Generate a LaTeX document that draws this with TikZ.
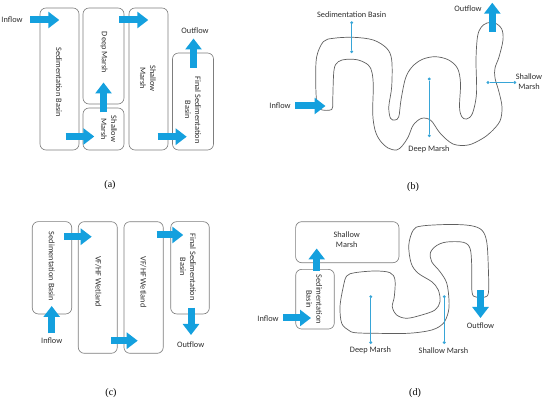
\documentclass[tikz,border=0pt]{standalone}
\usepackage{fontspec}
\setmainfont{Carlito}
\newfontfamily\capfont{Liberation Serif}
\usetikzlibrary{arrows.meta}
\definecolor{flowblue}{RGB}{20,160,222}
\definecolor{leadblue}{RGB}{55,165,215}
\definecolor{boxgray}{RGB}{125,125,125}
\definecolor{curvegray}{RGB}{95,95,95}
\definecolor{txtgray}{RGB}{45,45,45}
\begin{document}
\begin{tikzpicture}[x=1pt,y=-1pt,
  box/.style={draw=boxgray, line width=0.65pt, rounded corners=6pt, inner sep=0pt},
  txt/.style={font=\fontsize{8.3}{10}\selectfont, text=txtgray, inner sep=0pt, align=center},
  panellabel/.style={font=\capfont\fontsize{10}{12}\selectfont, inner sep=0pt},
  flow/.style={draw=flowblue, line width=7pt, -{Triangle[length=11pt,width=16pt]}},
  channel/.style={draw=curvegray, line width=0.7pt},
  lead/.style={draw=leadblue, line width=0.7pt},
  dot/.style={circle, fill=leadblue, inner sep=0pt, minimum size=3.2pt}]
\useasboundingbox (0,0) rectangle (550,401);

%% ---------------- (a) ----------------
\node[box, minimum width=39pt, minimum height=142pt] (aSB) at (59.5,79) {};
\node[box, minimum width=41pt, minimum height=96pt] (aDM) at (103.5,56) {};
\node[box, minimum width=41pt, minimum height=42pt] (aSMs) at (103.5,129) {};
\node[box, minimum width=39pt, minimum height=142pt] (aSMt) at (148.5,79) {};
\node[box, minimum width=41pt, minimum height=97pt] (aFSB) at (193,101.5) {};
\node[txt, rotate=-90] (aSBt) at (59,82) {Sedimentation Basin};
\node[txt, rotate=-90] (aDMt) at (104,52.5) {Deep Marsh};
\node[txt, rotate=-90] (aSMst) at (109,129) {Shallow\\Marsh};
\node[txt, rotate=-90] (aSMtt) at (148,78.5) {Shallow\\Marsh};
\node[txt, rotate=-90] (aFSBt) at (193,110) {Final Sedimentation\\Basin};
\node[txt] (aIn) at (12,19.5) {Inflow};
\node[txt] (aOut) at (195,31) {Outflow};
\coordinate (a1s) at (30,20);    \coordinate (a1e) at (59.3,20);
\coordinate (a2s) at (65.7,136.5); \coordinate (a2e) at (94.3,136.5);
\coordinate (a3s) at (103.5,112.5); \coordinate (a3e) at (103.5,82.5);
\coordinate (a4s) at (119.3,20); \coordinate (a4e) at (148.3,20);
\coordinate (a5s) at (157.7,136.7); \coordinate (a5e) at (186.7,136.7);
\coordinate (a6s) at (193.5,68); \coordinate (a6e) at (193.5,38.5);
\draw[flow] (a1s) -- (a1e);
\draw[flow] (a2s) -- (a2e);
\draw[flow] (a3s) -- (a3e);
\draw[flow] (a4s) -- (a4e);
\draw[flow] (a5s) -- (a5e);
\draw[flow] (a6s) -- (a6e);
\node[panellabel] (capa) at (110,185) {(a)};

%% ---------------- (b) ----------------
\draw[channel] plot[smooth cycle, tension=0.55] coordinates {
 (320,109.3) (316.7,101.7) (315.7,80) (316.7,56.7) (323.3,41.7) (333.3,38.3)
 (353.3,37.3) (373.3,40) (386.7,48.3) (391.7,60) (391.7,86.7) (388.8,106.7)
 (390.5,118.3) (395,120) (398.8,116.7) (401,100) (405.5,78.3) (412,67)
 (422,59.5) (435,56.7) (448.3,59.8) (457.5,68.3) (460.5,83.3) (459.5,106.7)
 (461.7,116.7) (466.7,119) (472.5,113.3) (476.5,93.3) (476,60) (477.5,36.7)
 (481,27.5) (487,23) (495,23) (501.7,29) (503,40) (499,57) (495,68)
 (495,78) (499,92) (502,107) (500,121) (491,132) (481.7,139) (468.3,145)
 (453,144) (440,133) (431,120.5) (421.7,118.3) (413.3,125) (408.3,136.7)
 (402.5,145.5) (396.7,150) (388,148) (380,140.5) (375,130) (372.7,113.3)
 (373.3,86.7) (372,72.5) (368.3,65) (358.3,60) (346.7,59.3) (338.3,61.7)
 (334,70) (332.7,100) (331.7,109.5)};
\node[txt] (bSBt) at (351.7,15) {Sedimentation Basin};
\node[dot] (bSB1) at (351.7,22.7) {};
\node[dot] (bSB2) at (351.7,51.7) {};
\draw[lead] (bSB1) -- (bSB2);
\node[dot] (bDM1) at (429.3,79) {};
\node[dot] (bDM2) at (429.3,135.7) {};
\draw[lead] (bDM1) -- (bDM2);
\node[txt] (bDMt) at (429,149) {Deep Marsh};
\node[dot] (bSM1) at (488,82.5) {};
\node[dot] (bSM2) at (514.8,82.5) {};
\draw[lead] (bSM1) -- (bSM2);
\node[txt] (bSMt) at (529,81.5) {Shallow\\Marsh};
\node[txt] (bIn) at (280,106) {Inflow};
\node[txt] (bOut) at (468,8.5) {Outflow};
\coordinate (b1s) at (295,106); \coordinate (b1e) at (325.5,106);
\coordinate (b2s) at (492.3,32); \coordinate (b2e) at (492.3,2.7);
\draw[flow] (b1s) -- (b1e);
\draw[flow] (b2s) -- (b2e);
\node[panellabel] (capb) at (413,187) {(b)};

%% ---------------- (c) ----------------
\node[box, minimum width=39.4pt, minimum height=92.3pt] (cSB) at (52,267.8) {};
\node[box, minimum width=39pt, minimum height=131.6pt] (cW1) at (97.8,287.5) {};
\node[box, minimum width=39.3pt, minimum height=131.6pt] (cW2) at (143.6,287.5) {};
\node[box, minimum width=38.6pt, minimum height=92.3pt] (cFSB) at (190,267.8) {};
\node[txt, rotate=-90] (cSBt) at (51.7,266.5) {Sedimentation Basin};
\node[txt, rotate=-90] (cW1t) at (98.3,281.5) {VF/HF Wetland};
\node[txt, rotate=-90] (cW2t) at (143.3,282) {VF/HF Wetland};
\node[txt, rotate=-90] (cFSBt) at (188,267) {Final Sedimentation\\Basin};
\node[txt] (cIn) at (51.7,341) {Inflow};
\node[txt] (cOut) at (190.7,344.5) {Outflow};
\coordinate (c1s) at (64.3,236.7); \coordinate (c1e) at (91.7,236.7);
\coordinate (c2s) at (111,340.7); \coordinate (c2e) at (137.7,340.7);
\coordinate (c3s) at (156.7,235); \coordinate (c3e) at (183.3,235);
\coordinate (c4s) at (51.7,333.3); \coordinate (c4e) at (51.7,306);
\coordinate (c5s) at (191,307.7); \coordinate (c5e) at (191,335);
\draw[flow] (c1s) -- (c1e);
\draw[flow] (c2s) -- (c2e);
\draw[flow] (c3s) -- (c3e);
\draw[flow] (c4s) -- (c4e);
\draw[flow] (c5s) -- (c5e);
\node[panellabel] (capc) at (111,393) {(c)};

%% ---------------- (d) ----------------
\node[box, minimum width=103.3pt, minimum height=41pt] (dSM) at (347.3,242.2) {};
\node[box, minimum width=38.6pt, minimum height=59.7pt] (dSB) at (315,299.2) {};
\node[txt] (dSMt) at (346.7,239.3) {Shallow\\Marsh};
\node[txt, rotate=-90] (dSBt) at (314.3,299.3) {Sedimentation\\Basin};
\draw[channel] plot[smooth cycle, tension=0.55] coordinates {
 (346.7,276) (355,272.7) (375,271) (390,272.7) (395,280) (394.3,296.7)
 (392.3,306.7) (396.7,315) (406.7,318.3) (421.7,315) (435,310) (440,301.7)
 (438.3,290) (431.7,281.7) (418.3,273.3) (411.2,263.3) (408.8,245)
 (413.3,230) (421.7,226) (448.3,224.5) (470,225.5) (481.7,230) (486.7,241.7)
 (488.3,266.7) (488.5,292) (485,297) (476,297) (472,292) (471.7,265)
 (470,248.3) (463.3,242.3) (446.7,242) (436.7,245.5) (430.5,252.5)
 (431.7,261.7) (440,271.7) (446.7,283) (449,300) (448.3,312) (443.3,323.3)
 (431.7,330) (408.3,333.3) (375,333.3) (355,332.7) (348.3,330) (341.7,323.3)
 (340,306.7) (343.3,286.7)};
\node[dot] (dDM1) at (370.8,296.7) {};
\node[dot] (dDM2) at (370.8,342.5) {};
\draw[lead] (dDM1) -- (dDM2);
\node[txt] (dDMt) at (370.5,350.5) {Deep Marsh};
\node[dot] (dSM1) at (444.3,296.7) {};
\node[dot] (dSM2) at (444.3,342.5) {};
\draw[lead] (dSM1) -- (dSM2);
\node[txt] (dSMlt) at (443.5,350.5) {Shallow Marsh};
\node[txt] (dIn) at (268,319) {Inflow};
\node[txt] (dOut) at (480.5,325.5) {Outflow};
\coordinate (d1s) at (283.3,318); \coordinate (d1e) at (311,318);
\coordinate (d2s) at (316.7,271) ; \coordinate (d2e) at (316.7,248.5);
\coordinate (d3s) at (480.5,290.5); \coordinate (d3e) at (480.5,318);
\draw[flow] (d1s) -- (d1e);
\draw[flow] (d2s) -- (d2e);
\draw[flow] (d3s) -- (d3e);
\node[panellabel] (capd) at (415,392.7) {(d)};
\end{tikzpicture}
\end{document}
